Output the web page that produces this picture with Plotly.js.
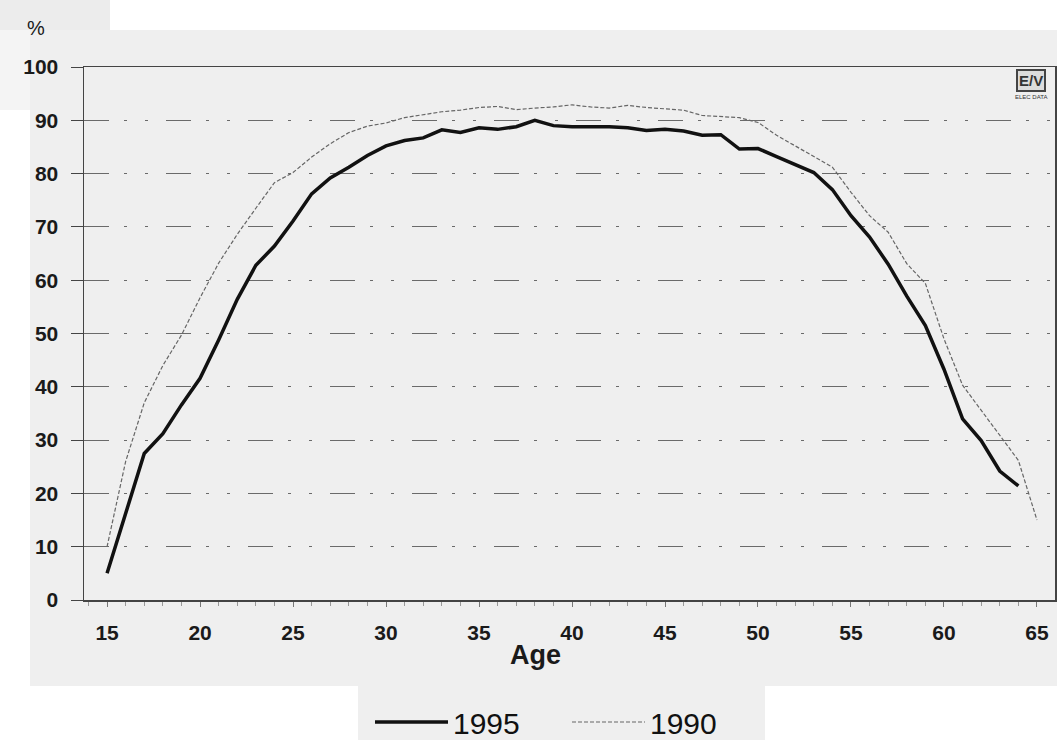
<!DOCTYPE html>
<html>
<head>
<meta charset="utf-8">
<script src="https://cdn.plot.ly/plotly-3.0.1.min.js"></script>
<style>
  html, body { margin: 0; padding: 0; background: #ffffff; }
  #chart { width: 1057px; height: 740px; }
</style>
</head>
<body>
<div id="chart"></div>
<script>
// ---- data ----
const ages1995 = [15,16,17,18,19,20,21,22,23,24,25,26,27,28,29,30,31,32,33,34,35,36,37,38,39,40,
  41,42,43,44,45,46,47,48,49,50,51,52,53,54,55,56,57,58,59,60,61,62,63,64];
const rate1995 = [5,16,27.5,31.2,36.6,41.6,48.8,56.4,62.8,66.4,71.1,76.2,79.2,81.2,83.4,85.2,86.2,86.7,88.2,87.7,
  88.6,88.3,88.8,90,89,88.8,88.8,88.8,88.6,88.1,88.3,88,87.2,87.3,84.6,84.7,83.2,81.7,80.2,77,
  72.1,68.1,63,57,51.5,43.3,34,29.9,24.2,21.4];
const ages1990 = [15,16,17,18,19,20,21,22,23,24,25,26,27,28,29,30,31,32,33,34,35,36,37,38,39,40,
  41,42,43,44,45,46,47,48,49,50,51,52,53,54,55,56,57,58,59,60,61,62,63,64,65];
const rate1990 = [10,26,37,44,49.7,56.7,63.2,68.6,73.5,78.3,80.2,83.1,85.6,87.7,88.9,89.5,90.5,91.1,91.6,91.9,
  92.4,92.6,92,92.3,92.5,92.9,92.5,92.3,92.8,92.4,92.2,91.9,90.9,90.7,90.5,89.6,87.2,85.2,83.2,81.2,
  76.5,72.1,69,63.1,59.4,49,40.3,35.6,30.9,26.2,15];
const seriesNames = ['1995', '1990'];
const xTickVals = [15,20,25,30,35,40,45,50,55,60,65];
const yTickVals = [0,10,20,30,40,50,60,70,80,90,100];

// ---- layout helpers (pixel -> paper) ----
const W = 1057, H = 740, ML = 84, MR = 2, MT = 67, MB = 140;
const PW = W - ML - MR, PH = H - MT - MB;
const px = x => (x - ML) / PW;
const py = y => (H - MB - y) / PH;
const GRAY = '#efefef';

function rect(x0, y0, x1, y1, color) {
  return {type: 'rect', xref: 'paper', yref: 'paper', layer: 'below',
    x0: px(x0), x1: px(x1), y0: py(y1), y1: py(y0),
    fillcolor: color, line: {width: 0}};
}

const traces = [
  {x: ages1995, y: rate1995, name: seriesNames[0], type: 'scatter', mode: 'lines',
   line: {color: '#111111', width: 3.5}},
  {x: ages1990, y: rate1990, name: seriesNames[1], type: 'scatter', mode: 'lines',
   line: {color: '#666666', width: 1.2, dash: '4px,2px'}}
];

const layout = {
  width: W, height: H,
  margin: {l: ML, r: MR, t: MT, b: MB, autoexpand: false},
  paper_bgcolor: '#ffffff',
  plot_bgcolor: GRAY,
  font: {family: 'Liberation Sans, Arial, sans-serif', color: '#1a1a1a'},
  showlegend: true,
  legend: {orientation: 'h', xref: 'container', yref: 'container',
    x: 370 / W, xanchor: 'left', y: (H - 722) / H, yanchor: 'middle',
    font: {size: 30, color: '#111'}, bgcolor: 'rgba(0,0,0,0)', itemwidth: 73,
    entrywidth: 109, entrywidthmode: 'pixels'},
  xaxis: {
    range: [13.76, 65.97], tickvals: xTickVals, ticks: 'outside', ticklen: 5, tickcolor: '#777',
    showgrid: false, zeroline: false, showline: true, linecolor: '#444', linewidth: 1.5, mirror: true,
    tickfont: {size: 21, color: '#1a1a1a', weight: 'bold'}, ticklabelstandoff: 8,
    minor: {dtick: 1, tick0: 15, ticks: 'outside', ticklen: 4, tickcolor: '#999'}
  },
  yaxis: {
    range: [0, 100], tickvals: yTickVals, ticks: 'outside', ticklen: 12, tickcolor: '#444',
    showgrid: true, gridcolor: '#6a6a6a', gridwidth: 1, griddash: '25px,15px,3px,18px,3px,18px',
    zeroline: false, showline: true, linecolor: '#444', linewidth: 1.5, mirror: true,
    tickfont: {size: 21, color: '#1a1a1a', weight: 'bold'}, ticklabelstandoff: 8
  },
  shapes: [
    rect(30, 30, 1057, 686, GRAY),
    rect(0, 0, 110, 30, '#ececec'),
    rect(0, 30, 30, 110, '#f4f4f4'),
    rect(358, 686, 765, 740, GRAY)
  ],
  annotations: [
    {text: '%', xref: 'paper', yref: 'paper', x: px(36), y: py(28), xanchor: 'center', yanchor: 'middle',
     showarrow: false, font: {size: 20, color: '#1a1a1a'}},
    {text: '<b>Age</b>', xref: 'paper', yref: 'paper', x: px(535), y: py(655), xanchor: 'center', yanchor: 'middle',
     showarrow: false, font: {size: 27, color: '#1a1a1a'}},
    {text: '<b>E/V</b>', xref: 'paper', yref: 'paper', x: px(1031), y: py(80), xanchor: 'center', yanchor: 'middle',
     showarrow: false, font: {size: 15, color: '#333'}, bgcolor: '#dcdcdc', bordercolor: '#444',
     borderwidth: 2, borderpad: 1},
    {text: 'ELEC DATA', xref: 'paper', yref: 'paper', x: px(1031), y: py(97), xanchor: 'center', yanchor: 'middle',
     showarrow: false, font: {size: 6, color: '#333'}}
  ]
};

Plotly.newPlot('chart', traces, layout, {displayModeBar: false, staticPlot: true});
</script>
</body>
</html>
